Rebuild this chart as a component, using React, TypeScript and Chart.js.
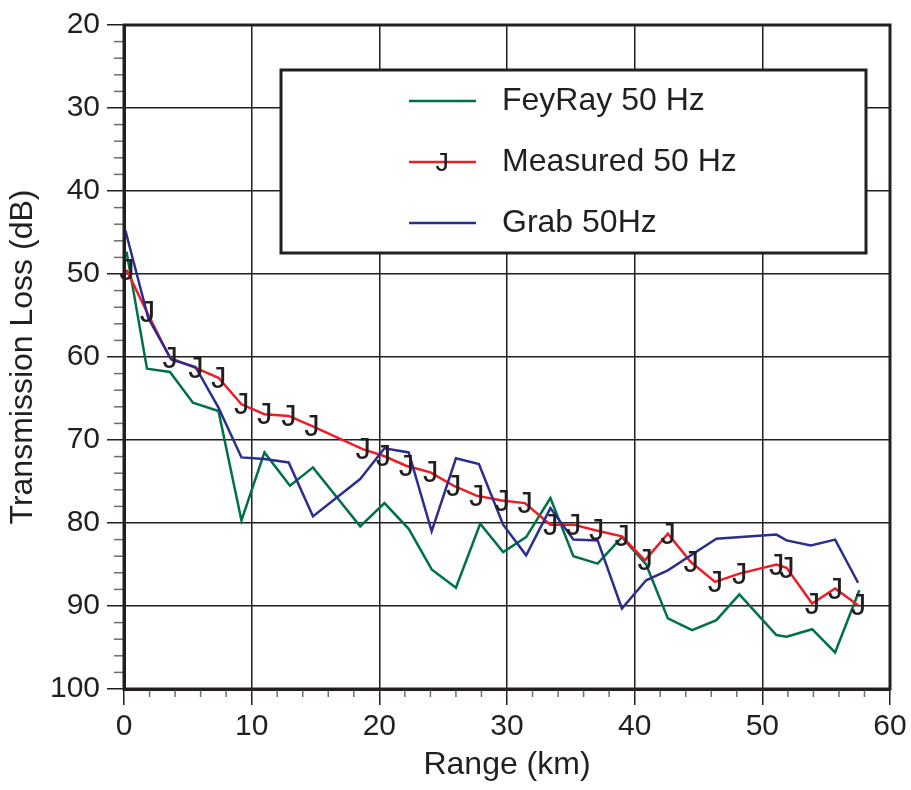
import React, { useEffect, useRef } from 'react';
import { Chart, registerables } from 'chart.js';
Chart.register(...registerables);

const FONT = '"Liberation Sans", Arial, Helvetica, sans-serif';
const MONO = '"Liberation Mono", "DejaVu Sans Mono", monospace';
const INK = '#231F20';

const feyKm = [0.2, 1.8, 3.6, 5.4, 7.4, 9.2, 11.0, 13.0, 14.8, 18.5, 20.4, 22.3, 24.1, 26.0, 27.9, 29.7, 31.5, 33.4, 35.2, 37.1, 39.0, 40.9, 42.6, 44.5, 46.4, 48.2, 51.1, 51.9, 53.9, 55.7, 57.6];
const feyDb = [47.3, 61.4, 61.8, 65.5, 66.5, 79.7, 71.5, 75.5, 73.3, 80.4, 77.6, 80.7, 85.6, 87.8, 80.1, 83.5, 81.7, 77.0, 84.0, 84.9, 81.7, 85.0, 91.5, 92.9, 91.7, 88.6, 93.5, 93.7, 92.8, 95.6, 88.1];

const measKm = [0.2, 1.8, 3.6, 5.6, 7.4, 9.2, 11.0, 12.9, 14.7, 18.7, 20.3, 22.1, 24.0, 25.8, 27.6, 29.6, 31.4, 33.4, 35.2, 37.0, 39.0, 40.8, 42.6, 44.4, 46.3, 48.2, 51.1, 51.9, 53.9, 55.7, 57.5];
const measDb = [49.5, 54.6, 60.1, 61.3, 62.5, 65.7, 66.9, 67.1, 68.3, 71.1, 71.9, 73.1, 73.9, 75.5, 76.7, 77.3, 77.6, 80.2, 80.2, 80.9, 81.6, 84.5, 81.3, 84.7, 87.1, 86.1, 85.0, 85.4, 89.7, 87.9, 89.9];

const grabKm = [0.1, 1.9, 3.7, 5.6, 7.4, 9.2, 11.0, 12.9, 14.8, 18.5, 20.4, 22.3, 24.1, 26.0, 27.8, 29.7, 31.5, 33.4, 35.2, 37.1, 39.0, 40.9, 42.6, 44.5, 46.4, 51.1, 51.9, 53.8, 55.7, 57.5];
const grabDb = [44.7, 55.3, 60.3, 61.2, 66.1, 72.1, 72.3, 72.7, 79.2, 74.7, 71.0, 71.5, 81.0, 72.2, 72.9, 80.2, 83.9, 78.2, 82.0, 82.1, 90.3, 86.9, 85.7, 83.8, 81.9, 81.4, 82.1, 82.7, 82.0, 87.2];

const seriesNames = ['FeyRay 50 Hz', 'Measured 50 Hz', 'Grab 50Hz'];
const seriesColors = ['#00704A', '#EE1C25', '#2B2E8C'];
const markerGlyph = 'J';

const toPts = (xs: number[], ys: number[]) => xs.map((x, i) => ({ x, y: ys[i] }));

const extras = {
  id: 'extras',
  afterDatasetsDraw(chart: any) {
    const ctx = chart.ctx;
    const meta = chart.getDatasetMeta(1);
    ctx.save();
    ctx.font = `32px ${MONO}`;
    ctx.fillStyle = INK;
    ctx.textAlign = 'center';
    ctx.textBaseline = 'alphabetic';
    meta.data.forEach((p: any) => {
      ctx.fillText(markerGlyph, p.x, p.y + 10);
    });
    ctx.restore();
  },
  afterDraw(chart: any) {
    const ctx = chart.ctx;
    const { left, right, top, bottom } = chart.chartArea;
    const xs = chart.scales.x;
    const ys = chart.scales.y;
    ctx.save();
    // minor ticks
    ctx.strokeStyle = '#6d6e71';
    ctx.lineWidth = 1.5;
    for (let v = 22; v < 100; v += 2) {
      if (v % 10 === 0) continue;
      const y = ys.getPixelForValue(v);
      ctx.beginPath();
      ctx.moveTo(left - 10, y);
      ctx.lineTo(left, y);
      ctx.stroke();
    }
    for (let v = 2; v < 60; v += 2) {
      if (v % 10 === 0) continue;
      const x = xs.getPixelForValue(v);
      ctx.beginPath();
      ctx.moveTo(x, bottom);
      ctx.lineTo(x, bottom + 8);
      ctx.stroke();
    }
    // frame
    ctx.strokeStyle = INK;
    ctx.lineWidth = 3;
    ctx.strokeRect(left, top, right - left, bottom - top);
    // legend box
    const bx = 281, by = 70, bw = 585, bh = 183;
    ctx.fillStyle = '#ffffff';
    ctx.fillRect(bx, by, bw, bh);
    ctx.strokeRect(bx, by, bw, bh);
    const rows = [101, 162, 223];
    seriesNames.forEach((name, i) => {
      const y = rows[i];
      ctx.strokeStyle = seriesColors[i];
      ctx.lineWidth = 2.5;
      ctx.beginPath();
      ctx.moveTo(409, y);
      ctx.lineTo(476, y);
      ctx.stroke();
      if (i === 1) {
        ctx.font = `28px ${MONO}`;
        ctx.fillStyle = INK;
        ctx.textAlign = 'center';
        ctx.textBaseline = 'alphabetic';
        ctx.fillText(markerGlyph, 442, y + 9);
      }
      ctx.font = `32px ${FONT}`;
      ctx.fillStyle = INK;
      ctx.textAlign = 'left';
      ctx.textBaseline = 'middle';
      ctx.fillText(name, 502, y);
    });
    ctx.restore();
  },
};

export default function App() {
  const ref = useRef<HTMLCanvasElement>(null);
  useEffect(() => {
    const canvas = ref.current;
    if (!canvas) return;
    const chart = new Chart(canvas, {
      type: 'line',
      data: {
        datasets: [
          { label: seriesNames[0], data: toPts(feyKm, feyDb), borderColor: seriesColors[0], borderWidth: 2.5, pointRadius: 0, fill: false, tension: 0, order: 3 },
          { label: seriesNames[1], data: toPts(measKm, measDb), borderColor: seriesColors[1], borderWidth: 2.5, pointRadius: 0, fill: false, tension: 0, order: 2 },
          { label: seriesNames[2], data: toPts(grabKm, grabDb), borderColor: seriesColors[2], borderWidth: 2.5, pointRadius: 0, fill: false, tension: 0, order: 1 },
        ],
      },
      options: {
        responsive: false,
        animation: false,
        layout: { padding: { top: 23, right: 21, bottom: 0, left: 0 } },
        plugins: { legend: { display: false }, tooltip: { enabled: false } },
        scales: {
          x: {
            type: 'linear',
            min: 0,
            max: 60,
            ticks: { stepSize: 10, font: { family: FONT, size: 30 }, color: INK, padding: 4, maxRotation: 0 },
            grid: { color: INK, lineWidth: 1.5, tickLength: 16, tickColor: INK, tickWidth: 1.5 },
            border: { color: INK, width: 3 },
            title: { display: true, text: 'Range (km)', font: { family: FONT, size: 32 }, color: INK, padding: { top: 0, bottom: 6 } },
            afterFit(s: any) { s.height = 101; },
          },
          y: {
            type: 'linear',
            reverse: true,
            min: 20,
            max: 100,
            ticks: { stepSize: 10, font: { family: FONT, size: 30 }, color: INK, padding: 7 },
            grid: { color: INK, lineWidth: 1.5, tickLength: 17, tickColor: INK, tickWidth: 1.5 },
            border: { color: INK, width: 3 },
            title: { display: true, text: 'Transmission Loss (dB)', font: { family: FONT, size: 32 }, color: INK, padding: { top: 4, bottom: 0 } },
            afterFit(s: any) { s.width = 124; },
          },
        },
      },
      plugins: [extras],
    } as any);
    return () => chart.destroy();
  }, []);
  return (
    <div style={{ position: 'absolute', left: 0, top: 0, width: 911, height: 790 }}>
      <canvas ref={ref} width={911} height={790} />
    </div>
  );
}
